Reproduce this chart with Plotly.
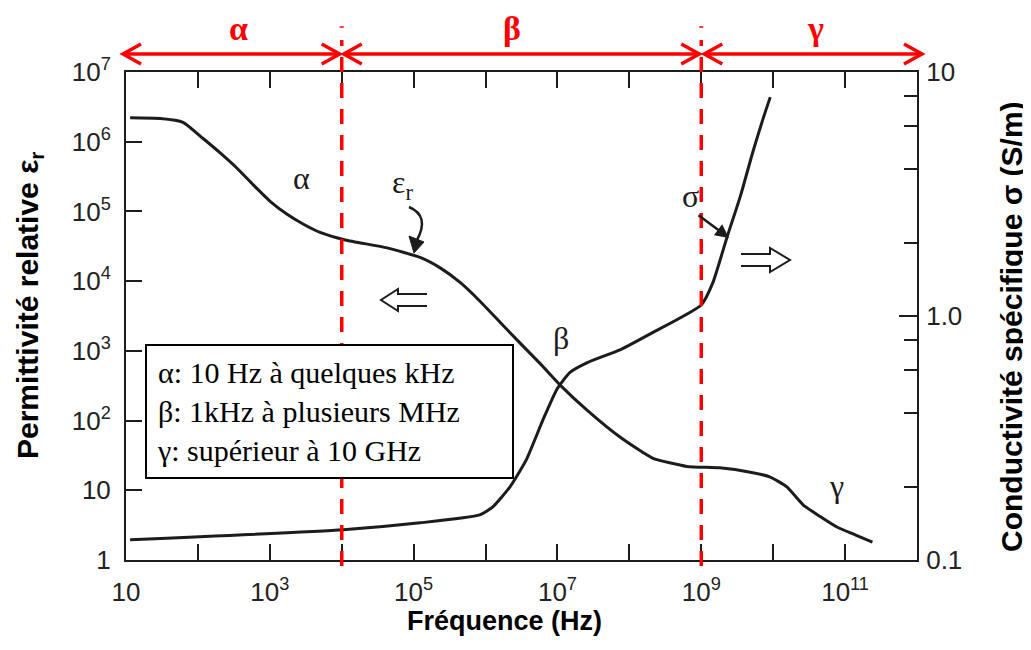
import math
import plotly.graph_objects as go

# ---------------- data ----------------
eps_freq = [11.4, 30, 62, 117, 204, 347, 589, 1000, 1740, 2.9e3, 5.0e3, 1.12e4, 4.27e4,
            1.23e5, 2.34e5, 4.47e5, 8.3e5, 1.58e6, 3.0e6, 5.8e6, 1.1e7, 2.6e7, 7.4e7,
            2.1e8, 6.3e8, 1.8e9, 4.8e9, 9.1e9, 1.55e10, 2.6e10, 4.5e10, 7.8e10, 1.38e11, 2.4e11]
eps_val = [2.2e6, 2.15e6, 1.9e6, 1.12e6, 6.9e5, 4.2e5, 2.4e5, 1.41e5, 9.1e4, 6.6e4, 5.0e4, 3.9e4, 3.0e4,
           2.19e4, 1.55e4, 9.5e3, 5.2e3, 2.6e3, 1.3e3, 650, 320, 140, 58,
           29, 22, 21, 18.2, 15.5, 11.2, 6.2, 4.2, 2.95, 2.3, 1.8]

sig_freq = [11.4, 1.05e4, 1.23e5, 8.3e5, 1.26e6, 2.2e6, 3.7e6, 6.3e6, 9.8e6, 1.48e7, 2.6e7,
            7.4e7, 2.1e8, 1.0e9, 1.45e9, 2.3e9, 3.5e9, 5.2e9, 7.2e9, 9.1e9]
sig_val = [0.121, 0.133, 0.142, 0.153, 0.165, 0.200, 0.258, 0.376, 0.50, 0.586, 0.644,
           0.727, 0.855, 1.11, 1.37, 2.12, 3.10, 4.69, 6.41, 7.89]

x_tickvals = [10 ** k for k in range(1, 13)]
x_ticktext = ["10", "", "10<sup>3</sup>", "", "10<sup>5</sup>", "", "10<sup>7</sup>", "",
              "10<sup>9</sup>", "", "10<sup>11</sup>", ""]
y_tickvals = [10 ** k for k in range(0, 8)]
y_ticktext = ["1", "10", "10<sup>2</sup>", "10<sup>3</sup>", "10<sup>4</sup>",
              "10<sup>5</sup>", "10<sup>6</sup>", "10<sup>7</sup>"]
y2_tickvals = [0.1, 1, 10]
y2_ticktext = ["0.1", "1.0", "10"]
y2_minor = [0.2, 0.4, 0.6, 0.8, 2, 4, 6, 8]

band_edges = [10, 1e4, 1e9, 1.2e12]   # alpha / beta / gamma limits (Hz)
band_names = ["α", "β", "γ"]
box_lines = ["α: 10 Hz à quelques kHz", "β: 1kHz à plusieurs MHz", "γ: supérieur à 10 GHz"]

# ---------------- layout geometry (screen pixels) ----------------
W, H = 1031, 650
OFF = 8                          # page body margin of the browser
FW, FH = W - OFF, H - 2 * OFF    # figure size so that the page does not scroll
L, R, T, B = 126, 917, 72, 560   # plot area on screen

def px(x):
    return (x - L) / (R - L)

def py(y):
    return (B - y) / (B - T)

def fx(f):
    return (math.log10(f) - 1) / 11.0

RED = "#ff0000"
INK = "#1c1c1c"

fig = go.Figure()
fig.add_trace(go.Scatter(x=eps_freq, y=eps_val, mode="lines",
                         line=dict(color=INK, width=3, shape="spline", smoothing=0.5),
                         yaxis="y", hoverinfo="skip"))
fig.add_trace(go.Scatter(x=sig_freq, y=sig_val, mode="lines",
                         line=dict(color=INK, width=3, shape="spline", smoothing=0.5),
                         yaxis="y2", hoverinfo="skip"))

shapes = []
# red dashed band boundaries (+ the small dash above each)
for f in band_edges[1:3]:
    shapes.append(dict(type="line", xref="paper", yref="paper",
                       x0=fx(f), x1=fx(f), y0=py(566), y1=py(40),
                       line=dict(color=RED, width=3.5, dash="15px,11px"), layer="above"))
    shapes.append(dict(type="line", xref="paper", yref="paper",
                       x0=fx(f) - 2 / (R - L), x1=fx(f) + 2 / (R - L), y0=py(27), y1=py(27),
                       line=dict(color=RED, width=1.5)))

# red double arrows at the top
ya = py(54)
hl = 18 / (R - L)
hw = 10 / (B - T)
starts = [px(123), fx(band_edges[1]) + 2 / (R - L), fx(band_edges[2]) + 3 / (R - L)]
ends = [fx(band_edges[1]) - 2 / (R - L), fx(band_edges[2]) - 2 / (R - L), px(922)]
for x0, x1 in zip(starts, ends):
    shapes.append(dict(type="line", xref="paper", yref="paper", x0=x0, x1=x1, y0=ya, y1=ya,
                       line=dict(color=RED, width=3.5)))
    shapes.append(dict(type="path", xref="paper", yref="paper",
                       path=f"M {x0+hl},{ya+hw} L {x0},{ya} L {x0+hl},{ya-hw}",
                       line=dict(color=RED, width=3.5)))
    shapes.append(dict(type="path", xref="paper", yref="paper",
                       path=f"M {x1-hl},{ya+hw} L {x1},{ya} L {x1-hl},{ya-hw}",
                       line=dict(color=RED, width=3.5)))

def ppath(pts, close=False):
    s = "M " + " L ".join(f"{px(a)},{py(b)}" for a, b in pts)
    return s + (" Z" if close else "")

# hollow arrows
shapes.append(dict(type="path", xref="paper", yref="paper",
                   path=ppath([(427, 294), (398, 294), (398, 289), (381, 300), (398, 311), (398, 306), (427, 306)]),
                   line=dict(color=INK, width=2)))
shapes.append(dict(type="path", xref="paper", yref="paper",
                   path=ppath([(741, 254), (770, 254), (770, 248), (790, 260), (770, 272), (770, 266), (741, 266)]),
                   line=dict(color=INK, width=2)))
# curved arrow for eps_r
shapes.append(dict(type="path", xref="paper", yref="paper",
                   path=f"M {px(409)},{py(207)} Q {px(430)},{py(216)} {px(417)},{py(240)}",
                   line=dict(color=INK, width=2.5)))
shapes.append(dict(type="path", xref="paper", yref="paper",
                   path=ppath([(409, 236), (424, 242), (414, 253)], close=True),
                   fillcolor=INK, line=dict(color=INK, width=1)))

annotations = []
C = dict(xanchor="center", yanchor="middle", showarrow=False)
# band labels on top
for name, xc in zip(band_names, [238, 512, 815]):
    annotations.append(dict(xref="paper", yref="paper", x=px(xc), y=py(28), text=f"<b>{name}</b>",
                            font=dict(family="Liberation Serif", size=34, color=RED), **C))
# curve labels
serif = dict(family="Liberation Serif", size=32, color=INK)
for txt, xc, yc in [("α", 301, 178), ("β", 561, 338), ("γ", 836, 486), ("σ", 690, 196),
                    ("ε<sub>r</sub>", 402, 184)]:
    annotations.append(dict(xref="paper", yref="paper", x=px(xc), y=py(yc), text=txt,
                            font=serif, **C))
# sigma pointer
annotations.append(dict(xref="paper", yref="paper", x=px(729), y=py(238), text="",
                        showarrow=True, arrowhead=2, arrowsize=1.1, arrowwidth=2.5,
                        arrowcolor=INK, ax=-32, ay=-24))
# info box
annotations.append(dict(xref="paper", yref="paper", x=px(145), y=py(344), xanchor="left",
                        yanchor="top", text="<br>".join(box_lines), align="left", valign="middle",
                        showarrow=False, bgcolor="white", bordercolor="black", borderwidth=2,
                        borderpad=10, width=345, height=111,
                        font=dict(family="Liberation Serif", size=30, color="black")))
# axis titles
annotations.append(dict(xref="paper", yref="paper", x=px(504), y=py(621), text="<b>Fréquence (Hz)</b>",
                        font=dict(family="Liberation Sans", size=27, color="black"), **C))
annotations.append(dict(xref="paper", yref="paper", x=px(29), y=py(305), textangle=-90,
                        text="<b>Permittivité relative ε<sub>r</sub></b>",
                        font=dict(family="Liberation Sans", size=30, color="black"), **C))
annotations.append(dict(xref="paper", yref="paper", x=px(1011), y=py(327), textangle=-90,
                        text="<b>Conductivité spécifique σ (S/m)</b>",
                        font=dict(family="Liberation Sans", size=30, color="black"), **C))

tickfont = dict(family="Liberation Sans", size=26, color="#222222")
fig.update_layout(
    width=FW, height=FH,
    margin=dict(l=L - OFF, r=FW - (R - OFF), t=T - OFF, b=FH - (B - OFF), autoexpand=False),
    paper_bgcolor="white", plot_bgcolor="white", showlegend=False,
    xaxis=dict(type="log", range=[1, 12], tickvals=x_tickvals, ticktext=x_ticktext,
               ticks="inside", ticklen=16, tickwidth=2, tickcolor=INK, showline=True,
               linewidth=2, linecolor=INK, mirror="ticks", showgrid=False, zeroline=False,
               tickfont=tickfont, ticklabelstandoff=8, automargin=False),
    yaxis=dict(type="log", range=[0, 7], tickvals=y_tickvals, ticktext=y_ticktext,
               ticks="inside", ticklen=16, tickwidth=2, tickcolor=INK, showline=True,
               linewidth=2, linecolor=INK, showgrid=False, zeroline=False,
               tickfont=tickfont, ticklabelstandoff=8, automargin=False),
    yaxis2=dict(type="log", range=[-1, 1], overlaying="y", side="right",
                tickvals=y2_tickvals, ticktext=y2_ticktext, ticks="inside", ticklen=18,
                tickwidth=2, tickcolor=INK, showline=True, linewidth=2, linecolor=INK,
                showgrid=False, zeroline=False, tickfont=tickfont, ticklabelstandoff=2,
                automargin=False,
                minor=dict(tickvals=y2_minor, ticks="inside", ticklen=13, tickwidth=2,
                           tickcolor=INK, showgrid=False)),
    shapes=shapes, annotations=annotations,
)

fig.write_html("out.html")
